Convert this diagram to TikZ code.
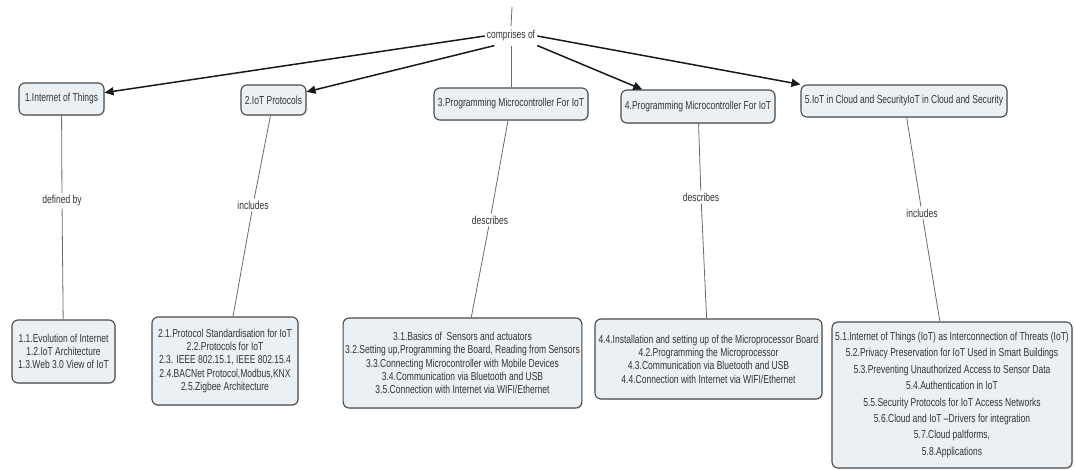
\documentclass[tikz,border=0pt]{standalone}
\usepackage{fontspec}
\setmainfont{Liberation Sans}[FakeStretch=0.74]
\usetikzlibrary{arrows.meta,shadows}
\definecolor{boxfill}{HTML}{EBF0F4}
\definecolor{boxline}{HTML}{4A4A4A}
\definecolor{linkgray}{HTML}{6A6A6A}
\definecolor{inkgray}{HTML}{333333}
\begin{document}
\begin{tikzpicture}[x=1pt,y=-1pt,
  concept/.style={draw=boxline, line width=1.1pt, fill=boxfill, rounded corners=6pt,
    text=inkgray, inner sep=2pt, align=center,
    font=\fontsize{11.5}{13.3}\selectfont,
    drop shadow={opacity=0.18, shadow xshift=1pt, shadow yshift=-1pt}},
  linklabel/.style={fill=white, text=inkgray, inner sep=2pt,
    font=\fontsize{11.5}{12}\selectfont},
  link/.style={draw=linkgray, line width=0.8pt},
  branch/.style={draw=black!90, line width=1.5pt, -{Triangle[length=9pt,width=8pt]}}
]
\fill[white] (0,0) rectangle (1075,469);
\useasboundingbox (0,0) rectangle (1075,469);

% central linking phrase and the line coming into it from above
\coordinate (topin) at (512,7);
\node[linklabel, inner ysep=4pt] (lbl) at (511,36) {comprises of};

% main topics
\node[concept, minimum width=85pt, minimum height=32pt] (n1) at (61.5,99) {1.Internet of Things};
\node[concept, minimum width=65pt, minimum height=30pt] (n2) at (273.5,100) {2.IoT Protocols};
\node[concept, minimum width=154pt, minimum height=32pt] (n3) at (511,104) {3.Programming Microcontroller For IoT};
\node[concept, minimum width=154pt, minimum height=33pt] (n4) at (698,106.5) {4.Programming Microcontroller For IoT};
\node[concept, minimum width=206pt, minimum height=32pt] (n5) at (904,101) {5.IoT in Cloud and SecurityIoT in Cloud and Security};

% sub-topic lists
\node[concept, minimum width=103pt, minimum height=63pt] (b1) at (63.5,351.5)
  {1.1.Evolution of Internet\\1.2.IoT Architecture\\1.3.Web 3.0 View of IoT};
\node[concept, minimum width=146pt, minimum height=88pt] (b2) at (225,361)
  {2.1.Protocol Standardisation for IoT\\2.2.Protocols for IoT\\2.3. IEEE 802.15.1, IEEE 802.15.4\\2.4.BACNet Protocol,Modbus,KNX\\2.5.Zigbee Architecture};
\node[concept, minimum width=231pt, minimum height=90pt] (b3) at (462.5,363)
  {3.1.Basics of~ Sensors and actuators\\3.2.Setting up,Programming the Board, Reading from Sensors\\3.3.Connecting Microcontroller with Mobile Devices\\3.4.Communication via Bluetooth and USB\\3.5.Connection with Internet via WIFI/Ethernet};
\node[concept, minimum width=227pt, minimum height=80pt] (b4) at (708.5,359)
  {4.4.Installation and setting up of the Microprocessor Board\\4.2.Programming the Microprocessor\\4.3.Communication via Bluetooth and USB\\4.4.Connection with Internet via WIFI/Ethernet};
\node[concept, minimum width=240pt, minimum height=146pt,
      font=\fontsize{11.5}{16.4}\selectfont] (b5) at (952,395)
  {5.1.Internet of Things (IoT) as Interconnection of Threats (IoT)\\5.2.Privacy Preservation for IoT Used in Smart Buildings\\5.3.Preventing Unauthorized Access to Sensor Data\\5.4.Authentication in IoT\\5.5.Security Protocols for IoT Access Networks\\5.6.Cloud and IoT –Drivers for integration\\5.7.Cloud paltforms,\\5.8.Applications};

% linking phrases between topics and their lists
\node[linklabel] (l1) at (62,201) {defined by};
\node[linklabel] (l2) at (253,205) {includes};
\node[linklabel] (l3) at (490,220) {describes};
\node[linklabel] (l4) at (701,197) {describes};
\node[linklabel] (l5) at (922,213) {includes};

% connectors
\draw[link] (topin) -- (lbl.north);
\draw[link] (lbl) -- (n3);
\draw[branch] (lbl.west) -- (n1);
\draw[branch] (lbl.-150) -- (n2);
\draw[branch] (lbl.south east) -- (n4.163);
\draw[branch] (lbl.east) -- (n5.north west);

\draw[link] (n1) -- (l1) -- (b1);
\draw[link] (n2) -- (l2) -- (b2);
\draw[link] (n3) -- (l3) -- (b3);
\draw[link] (n4) -- (l4) -- (b4);
\draw[link] (n5) -- (l5) -- (b5);
\end{tikzpicture}
\end{document}
